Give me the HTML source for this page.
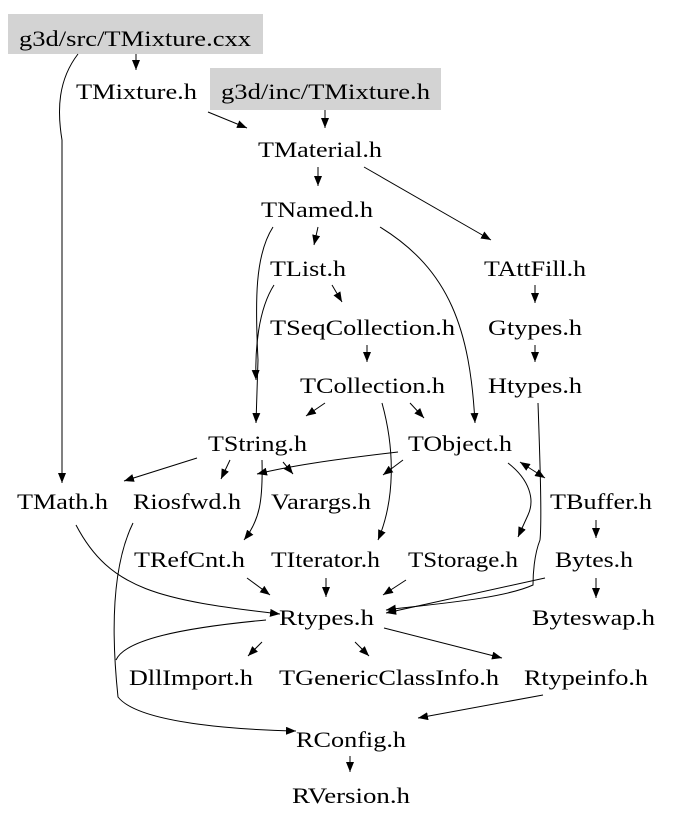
<!DOCTYPE html>
<html><head><meta charset="utf-8"><style>
html,body{margin:0;padding:0;background:#fff;}
svg{display:block;}
text{font-family:"Liberation Serif",serif;font-size:22px;fill:#000;}
path{fill:none;stroke:#000;stroke-width:1;}
</style></head><body>
<svg width="673" height="821" viewBox="0 0 673 821" xmlns="http://www.w3.org/2000/svg">
<defs>
<marker id="a" markerWidth="10" markerHeight="8" refX="10" refY="4" orient="auto" markerUnits="userSpaceOnUse"><polygon points="0,0 10,4 0,8" fill="#000"/></marker>
<marker id="b" markerWidth="10" markerHeight="8" refX="0" refY="4" orient="auto" markerUnits="userSpaceOnUse"><polygon points="10,0 0,4 10,8" fill="#000"/></marker>
</defs>
<rect x="8" y="14" width="255" height="40" fill="#d3d3d3"/>
<rect x="210" y="68" width="231" height="42" fill="#d3d3d3"/>
<g marker-end="url(#a)">
<path d="M136,54 L136,70"/>
<path d="M78,54 C58,80 57,110 62,140 L62,483"/>
<path d="M208,112 L247,128"/>
<path d="M325,110 L325,128"/>
<path d="M318,167 L318,186"/>
<path d="M364,167 L491,240"/>
<path d="M318,227 L314,245"/>
<path d="M273,227 C255,255 255,300 258,360 L256,423"/>
<path d="M380,227 C450,270 470,330 475,423"/>
<path d="M274,285 C258,310 255,350 256,380"/>
<path d="M332,285 L342,302"/>
<path d="M535,285 L535,303"/>
<path d="M367,345 L367,362"/>
<path d="M535,345 L535,362"/>
<path d="M325,403 L306,416"/>
<path d="M410,403 L424,418"/>
<path d="M382,403 C395,450 395,500 378,540"/>
<path d="M538,403 C540,460 542,520 540,540 C534,555 533,575 533,585 C500,600 420,605 386,610"/>
<path d="M197,458 L124,481"/>
<path d="M230,460 L221,479"/>
<path d="M283,462 L293,474"/>
<path d="M262,460 C263,500 260,520 244,540"/>
<path d="M398,452 C330,460 290,466 257,474"/>
<path d="M403,460 L383,475"/>
<path d="M508,463 C530,480 535,500 528,515 L518,537"/>
<path d="M520,462 L545,478" marker-start="url(#b)"/>
<path d="M596,520 L596,538"/>
<path d="M76,525 C110,590 160,600 280,614"/>
<path d="M133,523 C110,570 112,640 118,697 C140,725 250,730 296,731"/>
<path d="M247,578 L270,595"/>
<path d="M326,578 L326,597"/>
<path d="M406,580 L383,595"/>
<path d="M545,578 L386,613"/>
<path d="M596,578 L596,598"/>
<path d="M262,642 L248,656"/>
<path d="M355,642 L369,656"/>
<path d="M384,628 L502,658"/>
<path d="M543,695 L418,718"/>
<path d="M350,756 L350,772"/>
</g>
<path d="M266,620 C180,628 125,640 116,660"/>
<text x="19" y="46" textLength="232" lengthAdjust="spacingAndGlyphs">g3d/src/TMixture.cxx</text>
<text x="76" y="99" textLength="121" lengthAdjust="spacingAndGlyphs">TMixture.h</text>
<text x="221" y="99" textLength="209" lengthAdjust="spacingAndGlyphs">g3d/inc/TMixture.h</text>
<text x="258" y="157" textLength="124" lengthAdjust="spacingAndGlyphs">TMaterial.h</text>
<text x="261" y="217" textLength="112" lengthAdjust="spacingAndGlyphs">TNamed.h</text>
<text x="270" y="276" textLength="76" lengthAdjust="spacingAndGlyphs">TList.h</text>
<text x="484" y="276" textLength="102" lengthAdjust="spacingAndGlyphs">TAttFill.h</text>
<text x="270" y="335" textLength="185" lengthAdjust="spacingAndGlyphs">TSeqCollection.h</text>
<text x="488" y="335" textLength="94" lengthAdjust="spacingAndGlyphs">Gtypes.h</text>
<text x="300" y="393" textLength="145" lengthAdjust="spacingAndGlyphs">TCollection.h</text>
<text x="488" y="393" textLength="94" lengthAdjust="spacingAndGlyphs">Htypes.h</text>
<text x="208" y="451" textLength="99" lengthAdjust="spacingAndGlyphs">TString.h</text>
<text x="408" y="451" textLength="104" lengthAdjust="spacingAndGlyphs">TObject.h</text>
<text x="17" y="509" textLength="91" lengthAdjust="spacingAndGlyphs">TMath.h</text>
<text x="133" y="509" textLength="108" lengthAdjust="spacingAndGlyphs">Riosfwd.h</text>
<text x="271" y="509" textLength="100" lengthAdjust="spacingAndGlyphs">Varargs.h</text>
<text x="550" y="509" textLength="102" lengthAdjust="spacingAndGlyphs">TBuffer.h</text>
<text x="134" y="567" textLength="111" lengthAdjust="spacingAndGlyphs">TRefCnt.h</text>
<text x="271" y="567" textLength="109" lengthAdjust="spacingAndGlyphs">TIterator.h</text>
<text x="408" y="567" textLength="110" lengthAdjust="spacingAndGlyphs">TStorage.h</text>
<text x="555" y="567" textLength="78" lengthAdjust="spacingAndGlyphs">Bytes.h</text>
<text x="279" y="625" textLength="95" lengthAdjust="spacingAndGlyphs">Rtypes.h</text>
<text x="532" y="625" textLength="123" lengthAdjust="spacingAndGlyphs">Byteswap.h</text>
<text x="129" y="685" textLength="124" lengthAdjust="spacingAndGlyphs">DllImport.h</text>
<text x="279" y="685" textLength="220" lengthAdjust="spacingAndGlyphs">TGenericClassInfo.h</text>
<text x="524" y="685" textLength="124" lengthAdjust="spacingAndGlyphs">Rtypeinfo.h</text>
<text x="296" y="747" textLength="110" lengthAdjust="spacingAndGlyphs">RConfig.h</text>
<text x="292" y="803" textLength="118" lengthAdjust="spacingAndGlyphs">RVersion.h</text>
</svg>
</body></html>
